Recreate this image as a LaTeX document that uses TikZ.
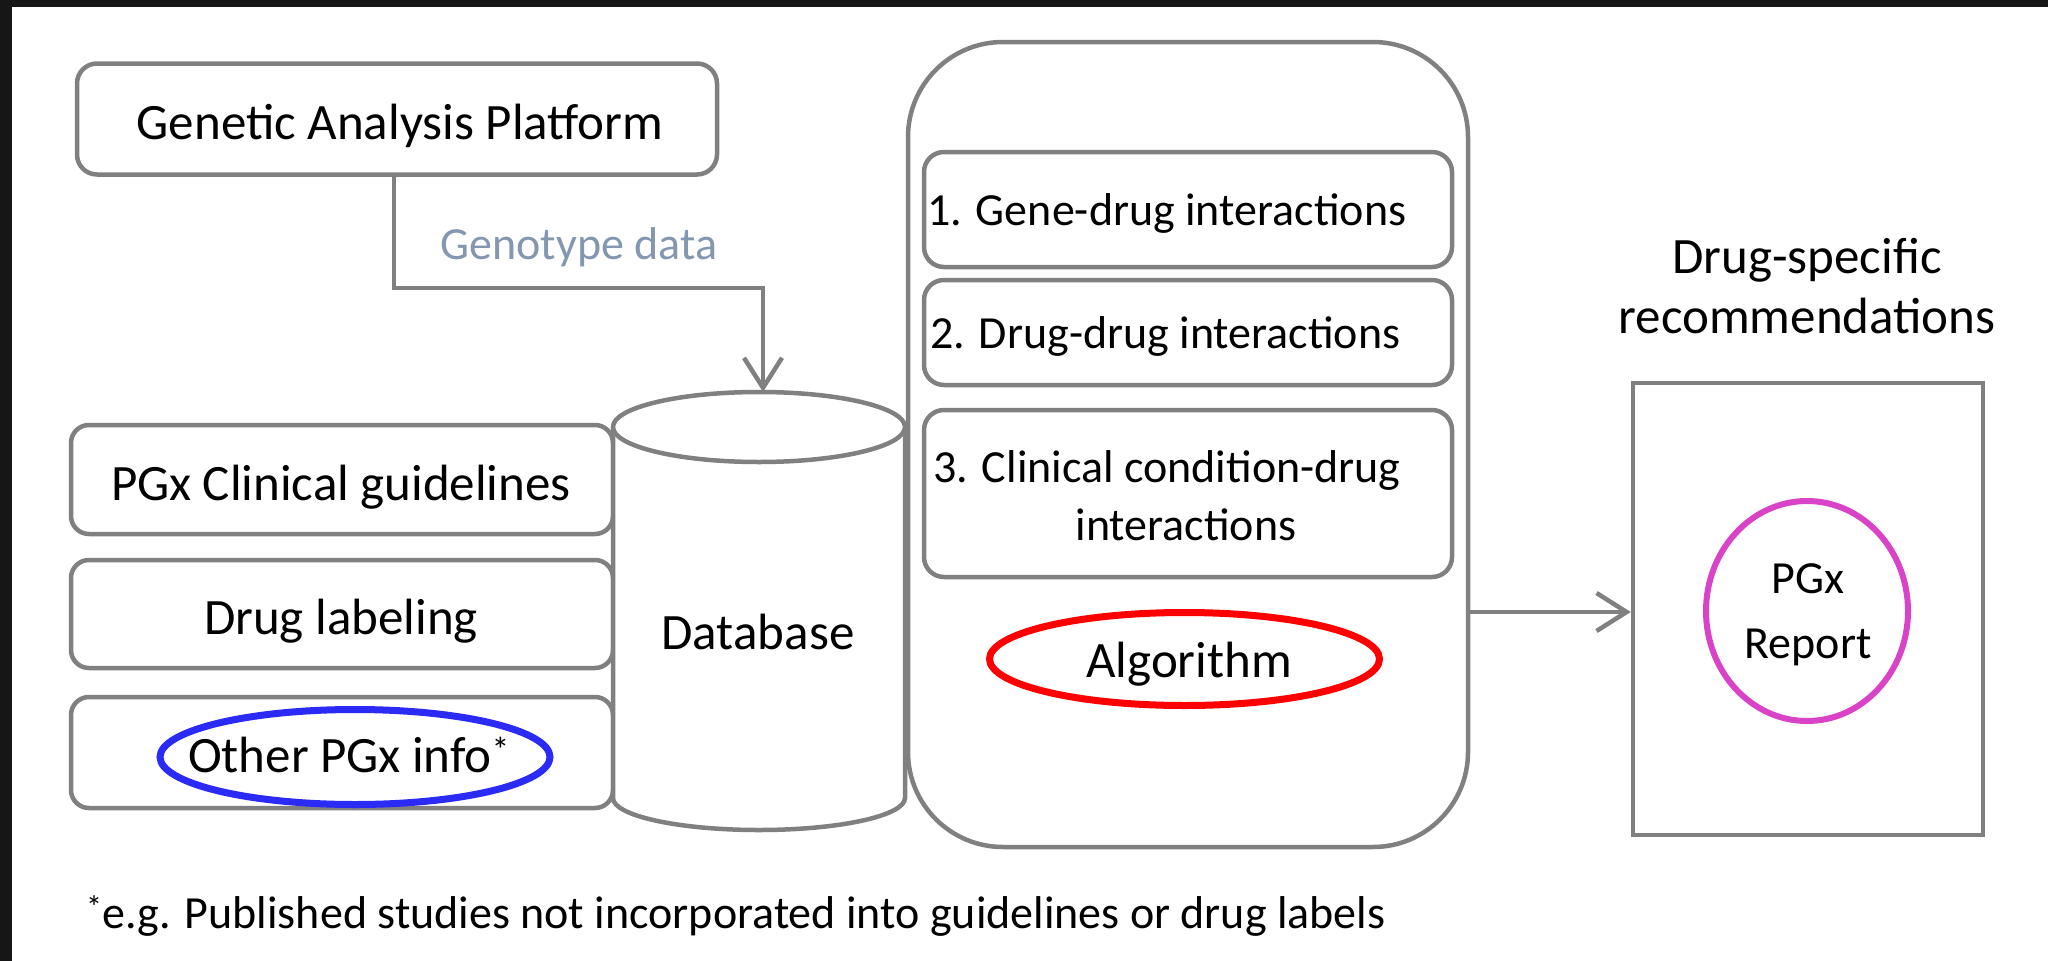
\documentclass[tikz,border=0pt]{standalone}
\usepackage{fontspec}
\setmainfont{Carlito}
\usetikzlibrary{arrows.meta,shapes.geometric}
\definecolor{edge}{HTML}{808080}
\definecolor{geno}{HTML}{8497B0}
\definecolor{ovblue}{HTML}{2B2BF5}
\definecolor{ovred}{HTML}{FF0000}
\definecolor{ovmag}{HTML}{D843C8}
\definecolor{frame}{HTML}{161616}

\begin{document}
\begin{tikzpicture}[x=1pt,y=-1pt,
  font=\fontsize{46}{60}\selectfont,
  big/.style={font=\fontsize{51}{60}\selectfont},
  box/.style={draw=edge,line width=4.5pt,rounded corners=20pt,inner sep=0pt,fill=white},
  conn/.style={draw=edge,line width=4.5pt,-{Straight Barb[length=30pt,width=38pt,line width=4.5pt]}},
  ring/.style={ellipse,line width=7pt,inner sep=0pt},
  lbl/.style={inner sep=0pt,align=center,anchor=base}]

% page frame
\fill[frame] (0,0) rectangle (2048,961);
\fill[white] (12,7) rectangle (2048,961);
\useasboundingbox (0,0) rectangle (2048,961);

% large algorithm container
\node[box,rounded corners=95pt,minimum width=560pt,minimum height=805pt] (algbox) at (1188,444.5) {};

% source boxes
\node[box,minimum width=640pt,minimum height=111pt] (gap) at (397,119) {};
\node[lbl,big] (gaptxt) at (400,139) {Genetic Analysis Platform};

\node[box,rounded corners=18pt,minimum width=542pt,minimum height=109pt] (guide) at (342,479.5) {};
\node[lbl,big] (guidetxt) at (341,500) {PGx Clinical guidelines};
\node[box,rounded corners=18pt,minimum width=542pt,minimum height=108pt] (label) at (342,614) {};
\node[lbl,big] (labeltxt) at (341,634) {Drug labeling};
\node[box,rounded corners=18pt,minimum width=542pt,minimum height=111pt] (other) at (342,752.5) {};
\node[ring,draw=ovblue,minimum width=390pt,minimum height=95pt] (otherring) at (355,757) {};
\node[lbl,big] (othertxt) at (349,772) {Other PGx info\textsuperscript{*}};

% database cylinder
\draw[edge,line width=4.5pt,fill=white] (613,427) -- (613,798)
  arc[start angle=180,end angle=360,x radius=146pt,y radius=32pt] -- (905,427);
\draw[edge,line width=4.5pt,fill=white] (759,427) ellipse[x radius=146pt,y radius=35pt];
\coordinate (dbtop) at (763,392);
\node[lbl,big] (db) at (758,649) {Database};

% interaction rules
\node[box,minimum width=528pt,minimum height=115pt] (rule1) at (1188,209.5) {};
\node[lbl,anchor=base west] (rule1txt) at (927,225) {1. Gene-drug interactions};
\node[box,minimum width=528pt,minimum height=105pt] (rule2) at (1188,332.5) {};
\node[lbl,anchor=base west] (rule2txt) at (930,348) {2. Drug-drug interactions};
\node[box,minimum width=528pt,minimum height=167pt] (rule3) at (1188,493.5) {};
\node[lbl,anchor=base west] (rule3txta) at (933,482) {3. Clinical condition-drug};
\node[lbl] (rule3txtb) at (1186,540) {interactions};

\node[ring,draw=ovred,minimum width=390pt,minimum height=93pt] (algring) at (1184.5,659) {};
\node[lbl,big] (algtxt) at (1189,677) {Algorithm};

% report
\node[lbl,big] (rectxt) at (1807,333) {Drug-specific\\recommendations};
\node[draw=edge,line width=4.5pt,minimum width=350pt,minimum height=452pt,inner sep=0pt] (rep) at (1808,609) {};
\node[ring,draw=ovmag,line width=6pt,minimum width=202pt,minimum height=220pt] (repring) at (1807,611) {};
\node[lbl,font=\fontsize{46}{65}\selectfont] (reptxt) at (1808,658) {PGx\\Report};

% connectors
\draw[conn] ([xshift=-3pt]gap.south) -- ++(0,111) -| (dbtop);
\node[lbl,text=geno] (genotxt) at (579,259) {Genotype data};
\coordinate (ay) at (0,612);
\draw[conn] (algbox.east |- ay) -- (rep.west |- ay);

% footnote
\node[lbl,anchor=base west] (note) at (86,928) {\textsuperscript{*}e.g. Published studies not incorporated into guidelines or drug labels};
\end{tikzpicture}
\end{document}
